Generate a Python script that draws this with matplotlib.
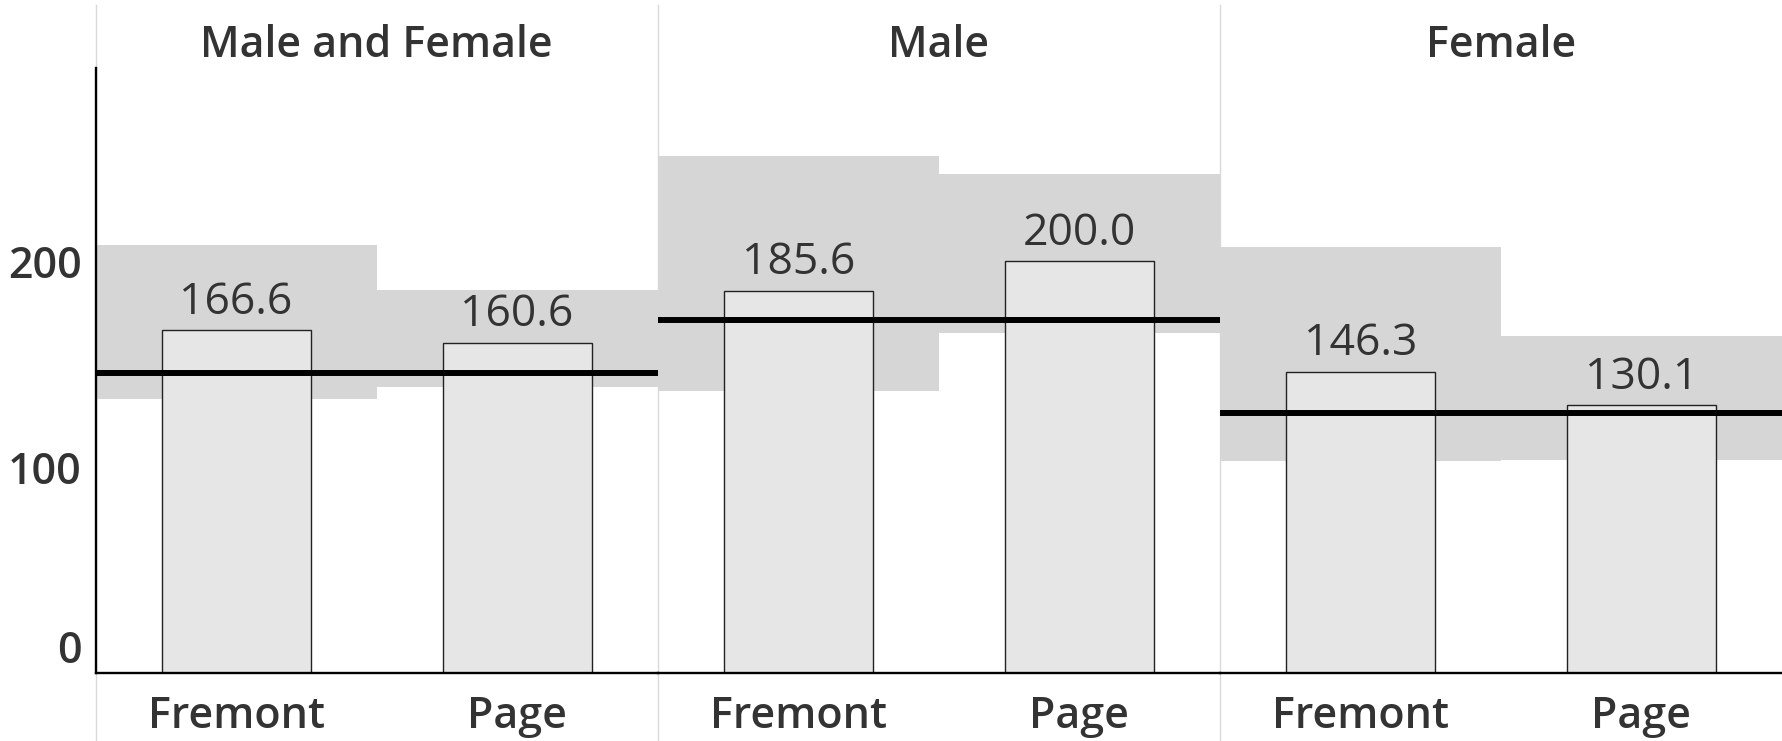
import matplotlib
matplotlib.use("Agg")
import matplotlib.pyplot as plt
from matplotlib.lines import Line2D


# Data
panels = ["Male and Female", "Male", "Female"]
categories = ["Fremont", "Page"]

values = [
    [166.6, 160.6],
    [185.6, 200.0],
    [146.3, 130.1],
]

# grey reference bands per cell (low / high)
band_low = [
    [133, 139],
    [137, 165],
    [103, 103.5],
]
band_high = [
    [208, 186],
    [251, 242.5],
    [207, 164],
]

# black average line per panel
panel_avg = [146, 171.5, 126.5]

yticks = [0, 100, 200]


plt.rcParams["font.family"] = ["Open Sans", "DejaVu Sans"]

W, H = 1782, 741
fig = plt.figure(figsize=(W / 100, H / 100), dpi=100)

left = 95.5 / W
bottom = (H - 673) / H
top = (H - 68) / H

gs = fig.add_gridspec(1, 3, left=left, right=1.0, bottom=bottom, top=top, wspace=0)
axes = [fig.add_subplot(gs[0, i]) for i in range(3)]

text_col = "#333333"
band_col = "#d6d6d6"
bar_col = "#e6e6e6"

x = list(range(len(categories)))

for i, ax in enumerate(axes):
    ax.patch.set_visible(False)

    # bands fill the whole category slot
    ax.bar(
        x,
        [h - l for h, l in zip(band_high[i], band_low[i])],
        bottom=band_low[i],
        width=1.0,
        color=band_col,
        linewidth=0,
        zorder=1,
    )

    bars = ax.bar(
        x,
        values[i],
        width=0.53,
        color=bar_col,
        edgecolor="#222222",
        linewidth=1.0,
        zorder=2,
    )

    ax.axhline(panel_avg[i], color="black", linewidth=4.3, zorder=3)

    for b, v in zip(bars, values[i]):
        ax.annotate(
            f"{v:.1f}",
            (b.get_x() + b.get_width() / 2, v),
            xytext=(0, 12),
            textcoords="offset points",
            ha="center",
            va="baseline",
            fontsize=32,
            color=text_col,
            zorder=4,
        )

    ax.set_xlim(-0.5, 1.5)
    ax.set_ylim(0, 294)

    ax.set_xticks(x)
    ax.set_xticklabels(categories, fontsize=31, fontweight="semibold", color=text_col)
    ax.tick_params(axis="x", length=0, pad=16)

    ax.set_title(panels[i], fontsize=31, fontweight="semibold", color=text_col, pad=8)

    for s in ["top", "right"]:
        ax.spines[s].set_visible(False)
    ax.spines["bottom"].set_color("black")
    ax.spines["bottom"].set_linewidth(1.7)
    ax.spines["bottom"].set_zorder(5)

    if i == 0:
        ax.spines["left"].set_color("black")
        ax.spines["left"].set_linewidth(1.7)
        ax.spines["left"].set_zorder(5)
        ax.set_yticks(yticks)
        ax.set_yticklabels([str(t) for t in yticks], fontsize=31, fontweight="semibold", color=text_col)
        ax.tick_params(axis="y", length=0, pad=10)
        ax.get_yticklabels()[0].set_verticalalignment("bottom")
    else:
        ax.spines["left"].set_visible(False)
        ax.set_yticks([])


# light grey panel separators running the full height
for xp in [95.5, 95.5 + (W - 95.5) / 3, 95.5 + 2 * (W - 95.5) / 3]:
    fig.add_artist(
        Line2D([xp / W, xp / W], [0, 1 - 5 / H], transform=fig.transFigure,
               color="#d9d9d9", linewidth=1.0, zorder=-1)
    )

fig.savefig("out.png", dpi=100)
